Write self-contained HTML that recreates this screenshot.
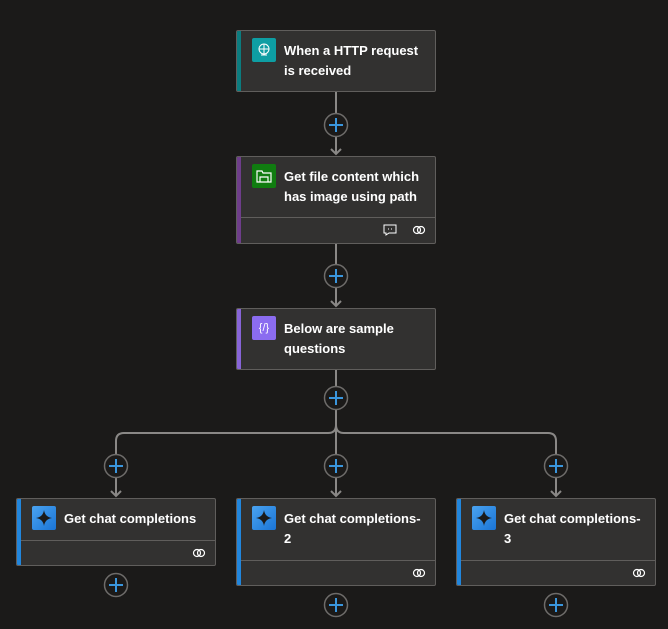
<!DOCTYPE html>
<html><head><meta charset="utf-8"><style>
*{margin:0;padding:0;box-sizing:border-box}
body{width:668px;height:629px;background:#1b1a19;position:relative;overflow:hidden;font-family:"Liberation Sans",sans-serif}
.card{position:absolute;width:200px;background:#323130;border:1px solid #605e5c;border-radius:2px;overflow:hidden}
.card .stripe{position:absolute;left:0;top:0;bottom:0;width:4px}
.card .ic{position:absolute;left:15px;top:7px;width:24px;height:24px;border-radius:2px}
.card .t{position:absolute;left:47px;top:10px;right:2px;color:#fff;font-weight:bold;font-size:13px;line-height:20px;white-space:nowrap}
.card .div{position:absolute;left:4px;right:0;height:1px;background:#605e5c}
svg.main{position:absolute;left:0;top:0}
.foot{position:absolute;right:8px;width:16px;height:12px}
</style></head><body>
<svg class="main" width="668" height="629">
<g stroke="#8a8886" stroke-width="2" fill="none">
<line x1="336" y1="91" x2="336" y2="154"/>
<line x1="336" y1="243" x2="336" y2="306"/>
<line x1="336" y1="369" x2="336" y2="496"/>
<path d="M116 496 V441 Q116 433 124 433 H328 Q336 433 336 425 Q336 433 344 433 H548 Q556 433 556 441 V496"/>
<path d="M331 149 L336 154 L341 149"/>
<path d="M331 301 L336 306 L341 301"/>
<path d="M111 491 L116 496 L121 491"/>
<path d="M331 491 L336 496 L341 491"/>
<path d="M551 491 L556 496 L561 491"/>
</g>
<g fill="#1b1a19" stroke="#6e6c6a" stroke-width="1.5">
<circle cx="336" cy="125" r="11.5"/><circle cx="336" cy="276" r="11.5"/><circle cx="336" cy="398" r="11.5"/>
<circle cx="116" cy="466" r="11.5"/><circle cx="336" cy="466" r="11.5"/><circle cx="556" cy="466" r="11.5"/>
<circle cx="116" cy="585" r="11.5"/><circle cx="336" cy="605" r="11.5"/><circle cx="556" cy="605" r="11.5"/>
</g>
<g stroke="#3a96dd" stroke-width="2">
<path d="M329 125h14M336 118v14"/><path d="M329 276h14M336 269v14"/><path d="M329 398h14M336 391v14"/>
<path d="M109 466h14M116 459v14"/><path d="M329 466h14M336 459v14"/><path d="M549 466h14M556 459v14"/>
<path d="M109 585h14M116 578v14"/><path d="M329 605h14M336 598v14"/><path d="M549 605h14M556 598v14"/>
</g>
</svg>

<div class="card" style="left:236px;top:30px;height:62px">
<div class="stripe" style="background:#0b7c7f"></div>
<div class="ic" style="background:#0e9ea3"><svg width="24" height="24"><circle cx="12" cy="11" r="5" fill="none" stroke="#fff" stroke-width="1"/><path d="M7 11h10M12 6v10M9 17h6" stroke="#fff" stroke-width="1"/></svg></div>
<div class="t">When a HTTP request<br>is received</div>
</div>

<div class="card" style="left:236px;top:156px;height:88px">
<div class="stripe" style="background:#6e3d8a"></div>
<div class="ic" style="background:#107c10"><svg width="24" height="24"><path d="M5 7h5l1 2h8v9H5z" fill="none" stroke="#fff" stroke-width="1.2"/><path d="M8 18v-5h8v5" fill="none" stroke="#fff" stroke-width="1.2"/></svg></div>
<div class="t">Get file content which<br>has image using path</div>
<div class="div" style="top:60px"></div>
<svg class="foot" style="right:36px;top:67px" width="14" height="12"><path d="M1 1h12v8H6l-3 2V9H1z" fill="none" stroke="#fff" stroke-width="1"/><path d="M5 5h1M8 5h1" stroke="#fff"/></svg>
<svg class="foot" style="top:67px" width="16" height="12"><circle cx="6" cy="6" r="3.5" fill="none" stroke="#fff" stroke-width="1.2"/><circle cx="10" cy="6" r="3.5" fill="none" stroke="#fff" stroke-width="1.2"/></svg>
</div>

<div class="card" style="left:236px;top:308px;height:62px">
<div class="stripe" style="background:#8764d8"></div>
<div class="ic" style="background:#8b6cf0;color:#fff;font-size:11px;text-align:center;line-height:24px">{/}</div>
<div class="t">Below are sample<br>questions</div>
</div>

<div class="card" style="left:16px;top:498px;height:68px">
<div class="stripe" style="background:#2186dd"></div>
<div class="ic" style="background:linear-gradient(135deg,#4aa3f0,#1a74d6)"><svg width="24" height="24"><path d="M12 4 Q13 11 20 12 Q13 13 12 20 Q11 13 4 12 Q11 11 12 4z" fill="#1b1a19"/></svg></div>
<div class="t">Get chat completions</div>
<div class="div" style="top:41px"></div>
<svg class="foot" style="top:48px" width="16" height="12"><circle cx="6" cy="6" r="3.5" fill="none" stroke="#fff" stroke-width="1.2"/><circle cx="10" cy="6" r="3.5" fill="none" stroke="#fff" stroke-width="1.2"/></svg>
</div>

<div class="card" style="left:236px;top:498px;height:88px">
<div class="stripe" style="background:#2186dd"></div>
<div class="ic" style="background:linear-gradient(135deg,#4aa3f0,#1a74d6)"><svg width="24" height="24"><path d="M12 4 Q13 11 20 12 Q13 13 12 20 Q11 13 4 12 Q11 11 12 4z" fill="#1b1a19"/></svg></div>
<div class="t">Get chat completions-<br>2</div>
<div class="div" style="top:61px"></div>
<svg class="foot" style="top:68px" width="16" height="12"><circle cx="6" cy="6" r="3.5" fill="none" stroke="#fff" stroke-width="1.2"/><circle cx="10" cy="6" r="3.5" fill="none" stroke="#fff" stroke-width="1.2"/></svg>
</div>

<div class="card" style="left:456px;top:498px;height:88px">
<div class="stripe" style="background:#2186dd"></div>
<div class="ic" style="background:linear-gradient(135deg,#4aa3f0,#1a74d6)"><svg width="24" height="24"><path d="M12 4 Q13 11 20 12 Q13 13 12 20 Q11 13 4 12 Q11 11 12 4z" fill="#1b1a19"/></svg></div>
<div class="t">Get chat completions-<br>3</div>
<div class="div" style="top:61px"></div>
<svg class="foot" style="top:68px" width="16" height="12"><circle cx="6" cy="6" r="3.5" fill="none" stroke="#fff" stroke-width="1.2"/><circle cx="10" cy="6" r="3.5" fill="none" stroke="#fff" stroke-width="1.2"/></svg>
</div>
</body></html>
